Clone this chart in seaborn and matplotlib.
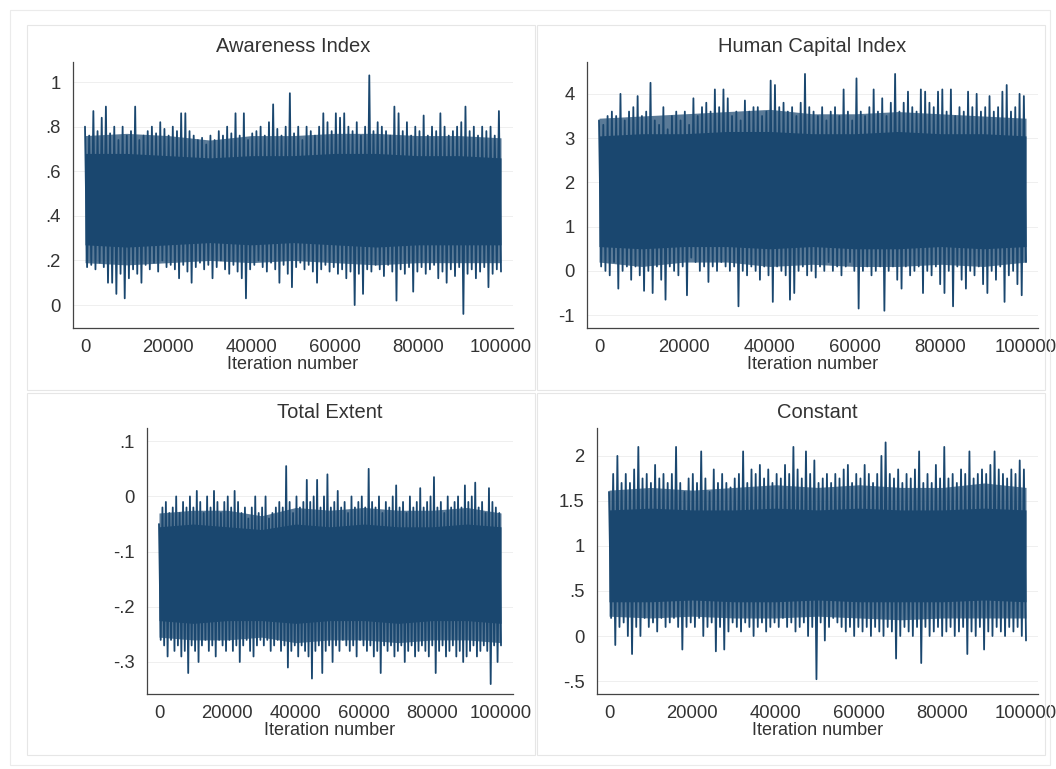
import numpy as np
import pandas as pd
import matplotlib
matplotlib.use("Agg")
import matplotlib.pyplot as plt
from matplotlib.patches import Rectangle
import seaborn as sns

sns.set_theme(style="white")
plt.rcParams['font.family'] = ['Liberation Sans', 'DejaVu Sans']

# ---------------- data (envelope values) ----------------
titles = ["Awareness Index", "Human Capital Index", "Total Extent", "Constant"]
x_label = "Iteration number"
x_ticks = [0, 20000, 40000, 60000, 80000, 100000]
x_ticklabels = ["0", "20000", "40000", "60000", "80000", "100000"]

aw_yticks = [0, 0.2, 0.4, 0.6, 0.8, 1.0]
aw_yticklabels = ["0", ".2", ".4", ".6", ".8", "1"]
hc_yticks = [-1, 0, 1, 2, 3, 4]
hc_yticklabels = ["-1", "0", "1", "2", "3", "4"]
te_yticks = [-0.3, -0.2, -0.1, 0.0, 0.1]
te_yticklabels = ["-.3", "-.2", "-.1", "0", ".1"]
co_yticks = [-0.5, 0, 0.5, 1.0, 1.5, 2.0]
co_yticklabels = ["-.5", "0", ".5", "1", "1.5", "2"]

aw_hi = [0.80,0.76,0.87,0.78,0.84,0.89,0.77,0.80,0.74,0.80,
         0.76,0.78,0.89,0.74,0.76,0.78,0.80,0.77,0.82,0.79,
         0.76,0.80,0.78,0.86,0.86,0.78,0.76,0.74,0.75,0.72,
         0.76,0.74,0.78,0.76,0.80,0.77,0.86,0.76,0.86,0.74,
         0.77,0.78,0.80,0.76,0.82,0.90,0.79,0.76,0.80,0.95,
         0.77,0.80,0.74,0.80,0.78,0.76,0.80,0.86,0.82,0.78,
         0.86,0.84,0.86,0.80,0.78,0.82,0.76,0.80,1.03,0.78,
         0.82,0.80,0.78,0.76,0.89,0.86,0.78,0.82,0.76,0.80,
         0.78,0.85,0.76,0.80,0.78,0.86,0.80,0.76,0.78,0.80,
         0.82,0.89,0.78,0.80,0.76,0.80,0.78,0.80,0.76,0.87]
aw_lo = [0.17,0.18,0.16,0.19,0.17,0.10,0.10,0.05,0.14,0.03,
         0.12,0.16,0.14,0.10,0.18,0.16,0.19,0.15,0.20,0.17,
         0.18,0.16,0.12,0.18,0.15,0.10,0.17,0.19,0.16,0.18,
         0.12,0.17,0.20,0.16,0.14,0.18,0.15,0.12,0.03,0.16,
         0.18,0.20,0.17,0.15,0.19,0.16,0.10,0.18,0.14,0.08,
         0.17,0.19,0.16,0.18,0.15,0.10,0.16,0.18,0.15,0.17,
         0.14,0.16,0.12,0.15,0.00,0.14,0.05,0.16,0.15,0.18,
         0.16,0.13,0.18,0.15,0.02,0.16,0.14,0.17,0.06,0.15,
         0.17,0.14,0.16,0.18,0.12,0.15,0.10,0.16,0.13,0.17,
         -0.04,0.14,0.16,0.12,0.15,0.17,0.08,0.14,0.16,0.15]

hc_hi = [3.4,3.3,3.5,3.6,3.5,4.0,3.4,3.6,3.7,3.95,
         3.5,3.6,4.25,3.4,3.3,3.7,3.2,3.5,3.6,3.4,
         3.6,3.3,3.9,3.5,3.7,3.8,3.6,4.1,3.7,4.1,
         3.9,3.5,3.6,3.4,3.85,3.6,3.7,3.7,3.5,3.6,
         4.3,4.2,3.7,3.8,3.6,3.7,3.5,3.8,4.45,3.7,
         3.6,3.5,3.7,3.4,3.6,3.7,3.5,4.1,3.6,3.4,
         4.35,3.6,3.5,3.7,4.1,3.6,3.9,3.5,3.8,4.45,
         3.6,3.8,4.05,3.7,3.6,4.1,4.05,3.8,3.7,4.05,
         4.1,3.6,4.1,3.5,3.7,3.6,4.05,3.7,4.0,3.6,
         3.7,3.95,3.6,3.7,4.05,4.2,3.6,3.7,4.0,3.95]
hc_lo = [0.1,0.0,-0.1,0.2,-0.4,0.0,0.1,-0.2,0.1,-0.1,
         -0.45,0.0,-0.5,0.1,-0.2,-0.65,0.1,0.0,-0.1,0.1,
         -0.55,0.3,0.2,0.0,0.1,-0.25,0.1,0.0,0.2,0.1,
         0.0,0.1,-0.8,0.0,-0.1,0.1,0.0,-0.2,0.1,-0.1,
         -0.7,0.1,0.0,-0.1,-0.65,-0.5,0.0,0.1,-0.1,0.0,
         -0.15,0.1,0.0,0.2,0.0,0.1,-0.1,0.1,0.2,0.0,
         -0.85,0.0,0.1,-0.1,0.0,0.1,-0.9,0.0,0.1,-0.2,
         -0.4,0.1,-0.1,0.0,0.1,-0.5,0.0,-0.1,0.1,-0.3,
         -0.5,0.0,-0.8,0.1,-0.2,-0.4,0.0,-0.1,0.1,-0.3,
         -0.5,0.0,-0.2,0.1,-0.7,-0.1,0.0,-0.3,-0.55,0.2]

te_hi = [-0.05,-0.02,-0.01,-0.03,-0.02,0.00,-0.03,-0.01,-0.02,0.00,
         -0.02,0.01,-0.01,-0.03,0.00,-0.02,0.01,-0.01,-0.03,-0.01,
         0.00,-0.02,0.01,-0.01,-0.03,-0.02,-0.04,-0.02,0.00,-0.03,
         -0.02,0.00,-0.04,-0.03,-0.02,-0.01,-0.02,0.055,-0.01,-0.03,
         0.00,-0.02,-0.01,0.03,-0.01,0.00,0.03,-0.02,0.00,0.04,
         -0.02,-0.01,0.01,-0.02,-0.01,-0.03,0.00,-0.02,-0.01,0.00,
         -0.02,0.05,-0.01,-0.02,0.00,-0.03,-0.01,-0.02,0.00,0.02,
         -0.02,-0.01,-0.03,0.00,-0.02,-0.01,0.015,-0.02,-0.01,0.00,
         0.035,-0.02,-0.01,-0.03,0.00,-0.02,-0.01,0.00,-0.02,0.02,
         -0.01,0.00,0.025,-0.02,-0.01,-0.03,0.015,-0.01,-0.02,-0.03]
te_lo = [-0.26,-0.27,-0.29,-0.26,-0.28,-0.27,-0.29,-0.28,-0.32,-0.27,
         -0.28,-0.30,-0.27,-0.26,-0.28,-0.27,-0.29,-0.26,-0.27,-0.28,
         -0.26,-0.28,-0.27,-0.30,-0.27,-0.26,-0.28,-0.29,-0.27,-0.26,
         -0.27,-0.26,-0.28,-0.27,-0.26,-0.28,-0.27,-0.31,-0.28,-0.27,
         -0.29,-0.27,-0.28,-0.29,-0.33,-0.28,-0.27,-0.32,-0.28,-0.27,
         -0.30,-0.27,-0.28,-0.26,-0.27,-0.28,-0.27,-0.29,-0.26,-0.27,
         -0.28,-0.27,-0.29,-0.28,-0.32,-0.27,-0.28,-0.27,-0.29,-0.28,
         -0.27,-0.30,-0.28,-0.27,-0.29,-0.28,-0.27,-0.28,-0.29,-0.27,
         -0.32,-0.28,-0.27,-0.29,-0.28,-0.27,-0.29,-0.28,-0.30,-0.29,
         -0.28,-0.27,-0.29,-0.28,-0.27,-0.28,-0.34,-0.27,-0.30,-0.27]

co_hi = [1.6,1.8,2.0,1.7,1.8,1.7,1.85,2.1,1.75,1.8,
         1.7,1.9,1.75,1.8,1.7,1.8,2.1,1.7,1.6,1.75,
         1.8,1.7,2.05,1.75,1.6,1.85,1.7,1.8,1.7,1.65,
         1.75,1.8,2.05,1.7,1.85,1.8,1.9,1.75,1.85,1.7,
         1.8,1.75,1.9,1.8,2.1,1.85,1.75,2.05,1.8,1.95,
         1.7,1.75,1.8,1.7,1.8,1.75,1.85,1.9,1.7,1.8,
         1.75,1.9,1.8,1.7,1.8,2.0,2.15,1.8,1.75,1.85,
         1.7,1.8,1.75,1.85,2.05,1.7,1.8,1.7,1.9,1.75,
         2.1,1.75,1.8,1.7,1.85,1.8,2.05,1.75,1.8,1.85,
         1.8,1.9,2.05,1.85,1.8,1.75,1.85,1.8,1.95,1.85]
co_lo = [0.2,-0.1,0.1,0.15,0.0,-0.2,0.1,0.0,0.2,0.1,
         0.15,0.05,0.2,0.1,0.15,0.2,0.1,-0.15,0.1,0.15,
         0.1,0.2,0.0,0.1,0.15,-0.17,0.1,-0.15,0.05,0.15,
         0.1,0.05,0.15,0.1,0.0,0.1,0.15,0.05,0.1,0.15,
         0.1,0.2,0.1,0.15,0.05,0.1,0.15,0.0,0.1,-0.48,
         0.15,-0.05,0.1,0.2,0.15,0.1,0.05,0.1,0.0,0.1,
         0.05,0.1,0.0,0.1,0.05,0.0,0.1,0.05,-0.25,0.0,
         0.1,0.05,0.0,0.1,-0.3,0.1,0.0,0.05,0.1,0.0,
         0.05,0.1,0.0,0.05,0.1,-0.2,0.05,0.0,0.1,-0.15,
         0.05,0.0,0.1,0.05,0.0,0.1,0.05,0.1,0.0,-0.05]

# bands of each chain at iterations 0, 10000, ..., 100000:
# solid core and the denser fringe around it
band_iter = [0, 10000, 20000, 30000, 40000, 50000, 60000, 70000, 80000, 90000, 100000]
aw_core_hi = [0.68, 0.68, 0.67, 0.66, 0.67, 0.67, 0.68, 0.68, 0.67, 0.67, 0.66]
aw_core_lo = [0.27, 0.26, 0.27, 0.28, 0.27, 0.28, 0.27, 0.26, 0.27, 0.27, 0.27]
aw_fringe_hi = [0.76, 0.77, 0.76, 0.74, 0.76, 0.76, 0.77, 0.77, 0.76, 0.76, 0.75]
aw_fringe_lo = [0.19, 0.18, 0.19, 0.20, 0.19, 0.20, 0.19, 0.18, 0.19, 0.19, 0.19]
hc_core_hi = [3.05, 3.1, 3.1, 3.15, 3.15, 3.1, 3.1, 3.15, 3.1, 3.1, 3.05]
hc_core_lo = [0.55, 0.5, 0.55, 0.55, 0.5, 0.55, 0.5, 0.5, 0.55, 0.5, 0.55]
hc_fringe_hi = [3.45, 3.5, 3.55, 3.6, 3.65, 3.55, 3.55, 3.6, 3.55, 3.5, 3.45]
hc_fringe_lo = [0.2, 0.1, 0.2, 0.2, 0.1, 0.15, 0.1, 0.1, 0.15, 0.1, 0.2]
te_core_hi = [-0.055, -0.05, -0.055, -0.06, -0.05, -0.055, -0.05, -0.055, -0.055, -0.05, -0.055]
te_core_lo = [-0.225, -0.23, -0.225, -0.225, -0.23, -0.225, -0.225, -0.23, -0.225, -0.225, -0.23]
te_fringe_hi = [-0.03, -0.025, -0.025, -0.035, -0.02, -0.025, -0.02, -0.025, -0.025, -0.02, -0.03]
te_fringe_lo = [-0.255, -0.26, -0.26, -0.255, -0.265, -0.26, -0.26, -0.265, -0.26, -0.26, -0.265]
co_core_hi = [1.4, 1.42, 1.4, 1.4, 1.42, 1.4, 1.42, 1.4, 1.4, 1.42, 1.4]
co_core_lo = [0.38, 0.38, 0.4, 0.38, 0.38, 0.4, 0.38, 0.38, 0.38, 0.4, 0.38]
co_fringe_hi = [1.62, 1.65, 1.62, 1.65, 1.68, 1.65, 1.68, 1.65, 1.65, 1.7, 1.65]
co_fringe_lo = [0.22, 0.2, 0.22, 0.2, 0.2, 0.22, 0.2, 0.18, 0.2, 0.2, 0.2]

# ---------------- layout (pixels of a 1056x769 canvas) ----------------
W, H = 1056, 769
NAVY = "#1a476f"
TXT = "#333333"

panels = [
    dict(title=titles[0], hi=aw_hi, lo=aw_lo, chi=aw_core_hi, clo=aw_core_lo,
         fhi=aw_fringe_hi, flo=aw_fringe_lo,
         yt=aw_yticks, ytl=aw_yticklabels, ylim=(-0.103, 1.09),
         box=(73, 513, 62, 328), tbox=(27, 25, 535, 390), ty=47),
    dict(title=titles[1], hi=hc_hi, lo=hc_lo, chi=hc_core_hi, clo=hc_core_lo,
         fhi=hc_fringe_hi, flo=hc_fringe_lo,
         yt=hc_yticks, ytl=hc_yticklabels, ylim=(-1.29, 4.72),
         box=(587, 1038, 62, 328), tbox=(537, 25, 1045, 390), ty=47),
    dict(title=titles[2], hi=te_hi, lo=te_lo, chi=te_core_hi, clo=te_core_lo,
         fhi=te_fringe_hi, flo=te_fringe_lo,
         yt=te_yticks, ytl=te_yticklabels, ylim=(-0.358, 0.124),
         box=(147, 513, 428, 694), tbox=(27, 393, 535, 755), ty=412),
    dict(title=titles[3], hi=co_hi, lo=co_lo, chi=co_core_hi, clo=co_core_lo,
         fhi=co_fringe_hi, flo=co_fringe_lo,
         yt=co_yticks, ytl=co_yticklabels, ylim=(-0.644, 2.31),
         box=(597, 1038, 428, 694), tbox=(537, 393, 1045, 755), ty=412),
]

fig = plt.figure(figsize=(W / 100, H / 100), dpi=100)
fig.patch.set_facecolor("white")

# outer frame and panel frames
fig.add_artist(Rectangle((10 / W, 1 - 765 / H), 1040 / W, 755 / H, transform=fig.transFigure,
                         fill=False, edgecolor="#ebebeb", lw=0.8))

for p in panels:
    x0, x1, y0, y1 = p["box"]
    bx0, by0, bx1, by1 = p["tbox"]
    fig.add_artist(Rectangle((bx0 / W, 1 - by1 / H), (bx1 - bx0) / W, (by1 - by0) / H,
                             transform=fig.transFigure, fill=False, edgecolor="#e6e6e6", lw=0.8))
    ax = fig.add_axes([x0 / W, 1 - y1 / H, (x1 - x0) / W, (y1 - y0) / H])
    ax.set_facecolor("white")

    n = len(p["hi"])
    iters = np.linspace(0, 100000, 2 * n)
    vals = []
    for h, l in zip(p["hi"], p["lo"]):
        vals.extend([h, l])
    df = pd.DataFrame({"iteration": iters, "value": vals})

    ax.fill_between(band_iter, p["flo"], p["fhi"], color=NAVY, alpha=0.72, lw=0)
    ax.fill_between(band_iter, p["clo"], p["chi"], color=NAVY, lw=0)
    sns.lineplot(data=df, x="iteration", y="value", ax=ax, color=NAVY, lw=1.3,
                 estimator=None, sort=False)

    pad = 12 / ((x1 - x0) - 24) * 100000
    ax.set_xlim(-pad, 100000 + pad)
    ax.set_ylim(*p["ylim"])
    ax.set_xticks(x_ticks)
    ax.set_xticklabels(x_ticklabels)
    ax.set_yticks(p["yt"])
    ax.set_yticklabels(p["ytl"])
    for yv in p["yt"]:
        ax.axhline(yv, color="#efefef", lw=0.7, zorder=0)
    ax.set_xlabel(x_label, fontsize=13, color=TXT, labelpad=0)
    ax.set_ylabel("")
    ax.tick_params(axis="both", direction="out", length=5, width=0.8, color="#444444",
                   labelsize=13.3, labelcolor=TXT)
    ax.tick_params(axis="x", pad=3)
    ax.tick_params(axis="y", pad=4)
    for s in ["top", "right"]:
        ax.spines[s].set_visible(False)
    for s in ["left", "bottom"]:
        ax.spines[s].set_color("#444444")
        ax.spines[s].set_linewidth(0.9)
    ax.grid(False)

    fig.text(((x0 + x1) / 2) / W, 1 - p["ty"] / H, p["title"], ha="center", va="center",
             fontsize=14.5, color=TXT)

fig.savefig("out.png", dpi=100, facecolor="white")
